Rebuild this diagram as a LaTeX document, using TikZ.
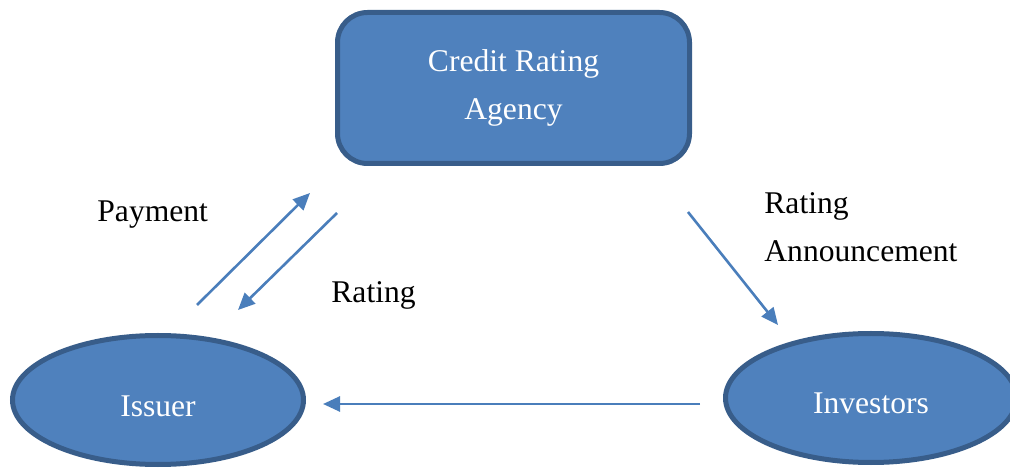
\documentclass[tikz,border=0pt]{standalone}
\usepackage{fontspec}
\setmainfont{Liberation Serif}
\usetikzlibrary{arrows.meta,shapes.geometric}
\definecolor{boxfill}{HTML}{4F81BD}
\definecolor{boxline}{HTML}{385D8A}
\definecolor{arrowblue}{HTML}{4A7EBB}

\begin{document}
\begin{tikzpicture}[x=0.5pt,y=-0.5pt,->,>={Triangle[length=8.5pt,width=7.5pt]},
  font=\fontsize{15.8}{24}\selectfont,
  box node/.style={rectangle,rounded corners=15pt,fill=boxfill,draw=boxline,line width=2.5pt,
    text=white,align=center,minimum width=176pt,minimum height=75.5pt},
  oval node/.style={ellipse,fill=boxfill,draw=boxline,line width=2.5pt,text=white,
    minimum width=145.5pt,minimum height=64.5pt,text height=19pt,text depth=3pt},
  tag/.style={anchor=base west,inner sep=0pt,align=left}]
  \useasboundingbox (0,0) rectangle (1010,469);
  \clip (0,0) rectangle (1010,469);

  \node[box node] (1) at (513.5,88) {Credit Rating\\Agency};
  \node[oval node] (2) at (158,400) {Issuer};
  \node[oval node] (3) at (871,398) {Investors};

  % base of a two line tag sits on its last line
  \node[tag] (4) at (97,222) {Payment};
  \node[tag] (5) at (331,303) {Rating};
  \node[tag] (6) at (764,262) {Rating\\Announcement};

  % loose ends of the arrows
  \coordinate (2a) at (197,305);
  \coordinate (1a) at (310,193);
  \coordinate (1b) at (337,213);
  \coordinate (2b) at (238,310);
  \coordinate (1c) at (688,212);
  \coordinate (3a) at (778,325);
  \coordinate (3b) at (700,404);
  \coordinate (2c) at (323,404);

  \path[arrowblue,line width=1.3pt]
    (2a) edge (1a)
    (1b) edge (2b)
    (1c) edge (3a)
    (3b) edge (2c);
\end{tikzpicture}
\end{document}
